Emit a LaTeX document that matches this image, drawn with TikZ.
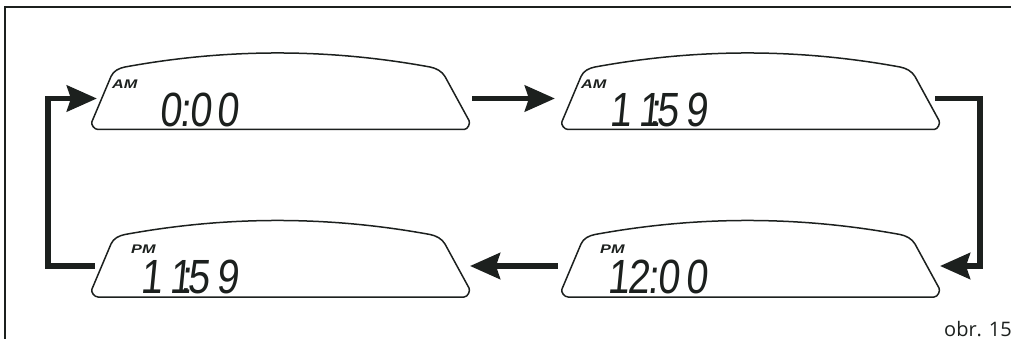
\documentclass[tikz,border=0pt]{standalone}
\usepackage{fontspec}
\usepackage{graphicx}
\usetikzlibrary{arrows.meta,calc}
\setmainfont{Liberation Sans}
\newfontfamily\lcdfont{Liberation Sans}[FakeSlant=0.12]
\newfontfamily\figcapfont{Open Sans}
\newcommand\lc[1]{\makebox[0pt]{\scalebox{0.82}[1]{#1}}}
\definecolor{ink}{HTML}{1C201E}
\tikzset{
  frameline/.style={line width=1.2pt, draw=ink},
  lcdline/.style={line width=1.5pt, draw=ink, line join=round},
  flowline/.style={line width=5.5pt, draw=ink},
  flow/.style={flowline, -{Stealth[length=30pt,width=26pt,inset=4pt]}},
  lcdtext/.style={font=\lcdfont\fontsize{48}{48}\selectfont, text=ink, anchor=base west, inner sep=0pt},
  ampm/.style={text=ink, anchor=base west, inner sep=0pt},
  capt/.style={text=ink, anchor=base east, inner sep=0pt},
  display/.pic={
    \draw[lcdline] (6,0) -- (372,0)
      .. controls (376,0) and (378.5,-6.4) .. (377,-9)
      -- (353,-53)
      .. controls (350,-58.2) and (344,-61.4) .. (338,-62.5)
      .. controls (236,-81.2) and (135,-81.2) .. (33,-62.5)
      .. controls (27.1,-61.4) and (21.3,-58.5) .. (19,-53)
      -- (0,-8)
      .. controls (-1.4,-4.8) and (2.5,0) .. (6,0) -- cycle;
    \coordinate (-L) at (9.9,-31);
    \coordinate (-R) at (365,-31);
  }
}
\newcommand\ampmtext[1]{\fontsize{12.5}{12.5}\selectfont\bfseries\itshape\scalebox{1.3}[1]{#1}}
\begin{document}
\begin{tikzpicture}[x=1pt,y=-1pt]
\useasboundingbox (0,0) rectangle (1015,339);
% partial frame
\draw[frameline] (5,339) -- (5,7) -- (1011,7);
% displays
\pic (d1) at (92,129.5) {display};
\pic (d2) at (562,129.5) {display};
\pic (d3) at (92,297) {display};
\pic (d4) at (562,297) {display};
% AM / PM
\node[ampm] (a1) at (112,89) {\ampmtext{AM}};
\node[ampm] (a2) at (581,89) {\ampmtext{AM}};
\node[ampm] (a3) at (131,254) {\ampmtext{PM}};
\node[ampm] (a4) at (600,254) {\ampmtext{PM}};
% times
\node[lcdtext] (t1) at (170,127) {\lc{0}\hspace{15pt}\lc{:}\hspace{15pt}\lc{0}\hspace{27pt}\lc{0}};
\node[lcdtext] (t2) at (620,127) {\lc{1}\hspace{29pt}\lc{1}\hspace{5.5pt}\lc{:}\hspace{13pt}\lc{5}\hspace{29pt}\lc{9}};
\node[lcdtext] (t3) at (151,293) {\lc{1}\hspace{29pt}\lc{1}\hspace{6pt}\lc{:}\hspace{12pt}\lc{5}\hspace{29pt}\lc{9}};
\node[lcdtext] (t4) at (618,293) {\lc{1}\hspace{20pt}\lc{2}\hspace{15pt}\lc{:}\hspace{15pt}\lc{0}\hspace{28pt}\lc{0}};
% caption
\node[capt] (cap) at (1012,336) {\fontsize{20}{20}\selectfont\figcapfont obr. 15};
% connectors
\coordinate (cR) at (980,0);
\coordinate (cL) at (48,0);
\draw[flow] ([xshift=15pt]d1-R) -- ([xshift=-17pt]d2-L);
\draw[flow] ([xshift=8pt]d2-R) -- (d2-R -| cR) -- (d4-R -| cR) -- ([xshift=13pt]d4-R);
\draw[flow] ([xshift=-14pt]d4-L) -- ([xshift=13pt]d3-R);
\draw[flow] ([xshift=-7pt]d3-L) -- (d3-L -| cL) -- (d1-L -| cL) -- ([xshift=-5pt]d1-L);
\end{tikzpicture}
\end{document}
